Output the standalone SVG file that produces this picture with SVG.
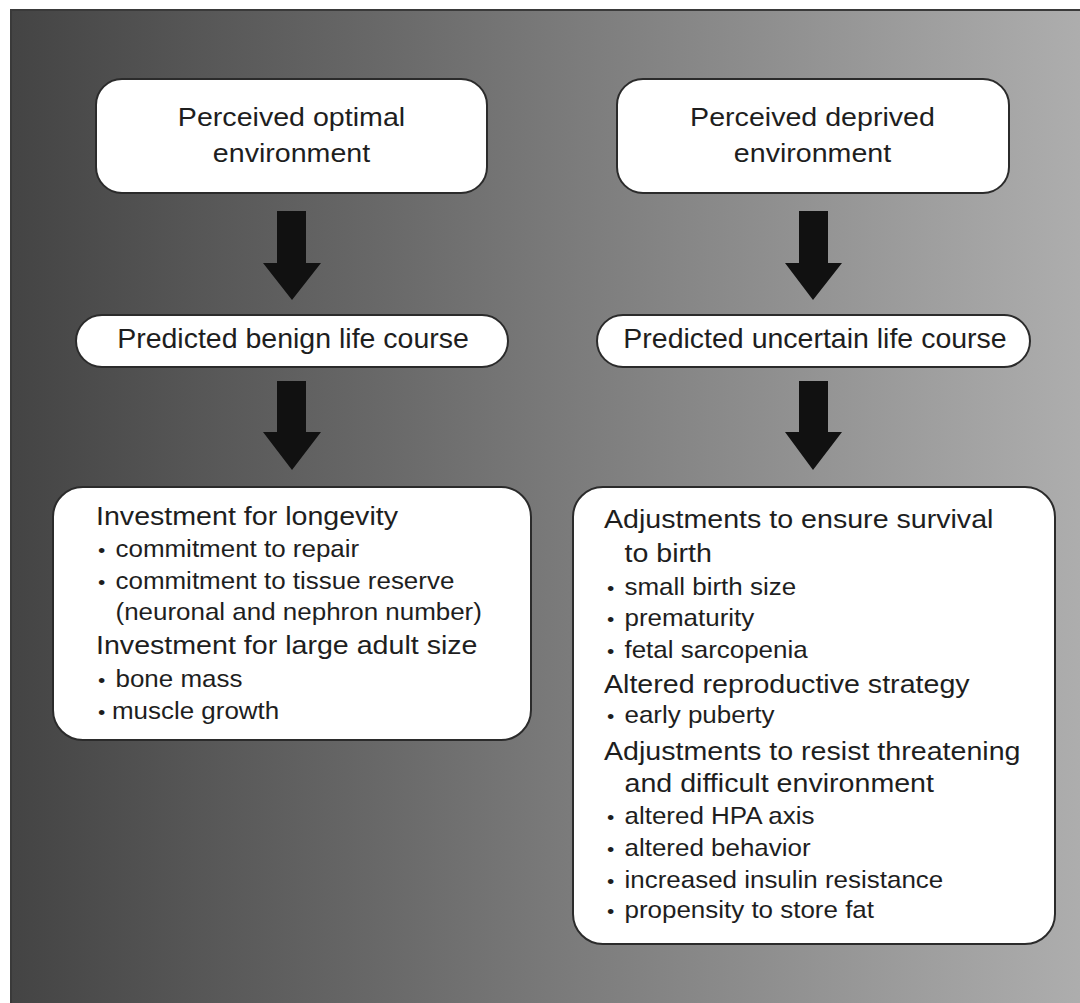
<svg xmlns="http://www.w3.org/2000/svg" width="1080" height="1003" viewBox="0 0 1080 1003">
  <defs>
    <linearGradient id="bg" x1="0" y1="0" x2="1" y2="0">
      <stop offset="0" stop-color="#444444"/>
      <stop offset="1" stop-color="#aeaeae"/>
    </linearGradient>
    <style>
      .box { fill: #ffffff; stroke: #2b2b2b; stroke-width: 2; }
      .arrow { fill: #111111; }
      text { font-family: "Liberation Sans", Arial, sans-serif; fill: #1e1e1e; }
      .title { font-size: 26px; text-anchor: middle; }
      .pill { font-size: 28.5px; text-anchor: middle; }
      .head { font-size: 26px; }
      .item { font-size: 23.6px; }
      .b { font-size: 19px; }
    </style>
  </defs>
  <rect x="0" y="0" width="1080" height="1003" fill="#ffffff"/>
  <rect x="11" y="10" width="1075" height="1000" fill="url(#bg)" stroke="#3a3a3a" stroke-width="2"/>

  <g id="connectors">
    <polygon class="arrow" points="277,211 306,211 306,263 321,263 292,300 263,263 277,263"/>
    <polygon class="arrow" points="277,381 306,381 306,432 321,432 292,470 263,432 277,432"/>
    <polygon class="arrow" points="799,211 828,211 828,263 842,263 813,300 785,263 799,263"/>
    <polygon class="arrow" points="799,381 828,381 828,432 842,432 813,470 785,432 799,432"/>
  </g>

  <g id="optimal-env">
    <rect class="box" x="96" y="79" width="391" height="114" rx="26"/>
    <text class="title" transform="translate(291.5 126) scale(1.1 1)">Perceived optimal</text>
    <text class="title" transform="translate(291.5 162) scale(1.1 1)">environment</text>
  </g>

  <g id="deprived-env">
    <rect class="box" x="617" y="79" width="392" height="114" rx="26"/>
    <text class="title" transform="translate(812.5 126) scale(1.1 1)">Perceived deprived</text>
    <text class="title" transform="translate(812.5 162) scale(1.1 1)">environment</text>
  </g>

  <g id="benign">
    <rect class="box" x="76" y="315" width="432" height="52" rx="26"/>
    <text class="pill" x="293" y="348">Predicted benign life course</text>
  </g>

  <g id="uncertain">
    <rect class="box" x="597" y="315" width="433" height="52" rx="26"/>
    <text class="pill" x="815" y="348">Predicted uncertain life course</text>
  </g>

  <g id="longevity">
    <rect class="box" x="53" y="487" width="478" height="253" rx="30"/>
    <text class="head" transform="translate(96 525) scale(1.1 1)">Investment for longevity</text>
    <text class="item" transform="translate(98 557) scale(1.1 1)"><tspan class="b" x="0">•</tspan><tspan x="15.9">commitment to repair</tspan></text>
    <text class="item" transform="translate(98 589) scale(1.1 1)"><tspan class="b" x="0">•</tspan><tspan x="15.9">commitment to tissue reserve</tspan></text>
    <text class="item" transform="translate(115.5 620) scale(1.1 1)">(neuronal and nephron number)</text>
    <text class="head" transform="translate(96 654) scale(1.1 1)">Investment for large adult size</text>
    <text class="item" transform="translate(98 687) scale(1.1 1)"><tspan class="b" x="0">•</tspan><tspan x="15.9">bone mass</tspan></text>
    <text class="item" transform="translate(98 719) scale(1.1 1)"><tspan class="b" x="0">•</tspan><tspan x="12.7">muscle growth</tspan></text>
  </g>

  <g id="survival">
    <rect class="box" x="573" y="487" width="482" height="457" rx="30"/>
    <text class="head" transform="translate(604 528) scale(1.1 1)">Adjustments to ensure survival</text>
    <text class="head" transform="translate(624.5 562) scale(1.1 1)">to birth</text>
    <text class="item" transform="translate(607 595) scale(1.1 1)"><tspan class="b" x="0">•</tspan><tspan x="15.9">small birth size</tspan></text>
    <text class="item" transform="translate(607 626) scale(1.1 1)"><tspan class="b" x="0">•</tspan><tspan x="15.9">prematurity</tspan></text>
    <text class="item" transform="translate(607 658) scale(1.1 1)"><tspan class="b" x="0">•</tspan><tspan x="15.9">fetal sarcopenia</tspan></text>
    <text class="head" transform="translate(604 693) scale(1.1 1)">Altered reproductive strategy</text>
    <text class="item" transform="translate(607 723) scale(1.1 1)"><tspan class="b" x="0">•</tspan><tspan x="15.9">early puberty</tspan></text>
    <text class="head" transform="translate(604 760) scale(1.1 1)">Adjustments to resist threatening</text>
    <text class="head" transform="translate(624.5 792) scale(1.1 1)">and difficult environment</text>
    <text class="item" transform="translate(607 824) scale(1.1 1)"><tspan class="b" x="0">•</tspan><tspan x="15.9">altered HPA axis</tspan></text>
    <text class="item" transform="translate(607 856) scale(1.1 1)"><tspan class="b" x="0">•</tspan><tspan x="15.9">altered behavior</tspan></text>
    <text class="item" transform="translate(607 888) scale(1.1 1)"><tspan class="b" x="0">•</tspan><tspan x="15.9">increased insulin resistance</tspan></text>
    <text class="item" transform="translate(607 918) scale(1.1 1)"><tspan class="b" x="0">•</tspan><tspan x="15.9">propensity to store fat</tspan></text>
  </g>
</svg>
